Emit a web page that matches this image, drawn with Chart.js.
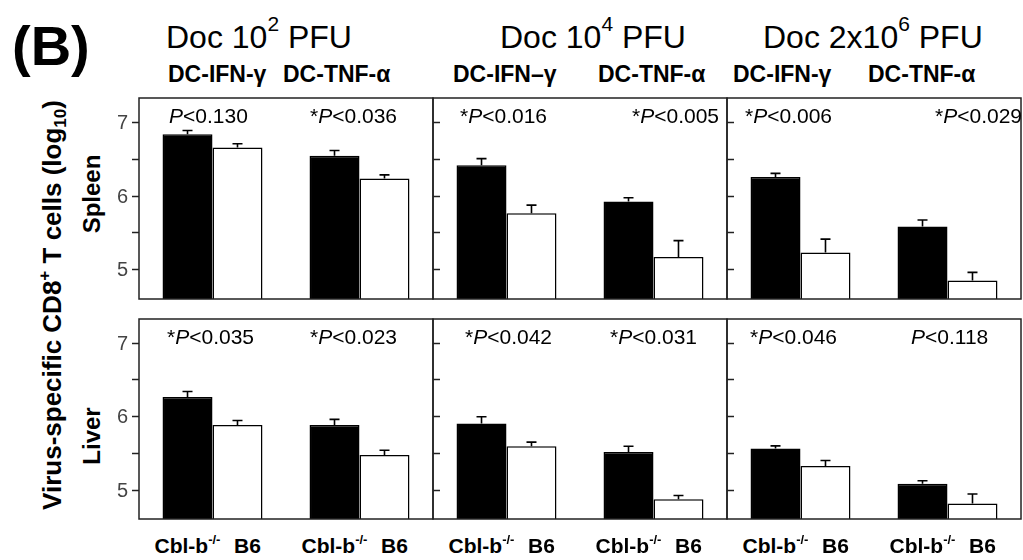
<!DOCTYPE html>
<html lang="en">
<head>
  <meta charset="UTF-8">
  <title>Virus-specific CD8+ T cells</title>
  <script src="https://cdn.jsdelivr.net/npm/chart.js"></script>
  <style>
    body {
      margin: 0;
      background: #fff;
      font-family: 'Liberation Sans', Arial, sans-serif;
      color: #000;
    }

    #fig {
      position: relative;
      width: 1023px;
      height: 560px;
      overflow: hidden;
    }

    #fig canvas {
      position: absolute;
    }

    .t {
      position: absolute;
      white-space: nowrap;
      line-height: 1;
    }
  </style>
</head>
<body>
  <div id="fig"></div>

  <script>
    // values (log10 cells), one entry per dose: [DC-IFN-γ, DC-TNF-α]
    const doseTitles = ['Doc 10^2 PFU', 'Doc 10^4 PFU', 'Doc 2x10^6 PFU'];
    const subTitles = [['DC-IFN-γ', 'DC-TNF-α'], ['DC-IFN–γ', 'DC-TNF-α'], ['DC-IFN-γ', 'DC-TNF-α']];
    const strains = ['Cbl-b', 'B6'];
    const organs = ['Spleen', 'Liver'];

    const spleenCbl = [[6.83, 6.54], [6.41, 5.92], [6.25, 5.58]];
    const spleenB6 = [[6.65, 6.23], [5.76, 5.17], [5.23, 4.85]];
    const spleenCblErr = [[0.05, 0.07], [0.09, 0.05], [0.05, 0.09]];
    const spleenB6Err = [[0.05, 0.05], [0.11, 0.22], [0.18, 0.11]];

    const liverCbl = [[6.26, 5.88], [5.90, 5.51], [5.56, 5.08]];
    const liverB6 = [[5.88, 5.47], [5.59, 4.87], [5.32, 4.81]];
    const liverCblErr = [[0.075, 0.075], [0.09, 0.08], [0.035, 0.04]];
    const liverB6Err = [[0.06, 0.065], [0.055, 0.05], [0.075, 0.13]];

    const spleenP = [['P<0.130', '*P<0.036'], ['*P<0.016', '*P<0.005'], ['*P<0.006', '*P<0.029']];
    const liverP = [['*P<0.035', '*P<0.023'], ['*P<0.042', '*P<0.031'], ['*P<0.046', 'P<0.118']];

    const yMin = 4.6, yMax = 7.32;
    const yTicks = [5, 5.5, 6, 6.5, 7];
    const yTickLabels = ['5', '', '6', '', '7'];

    // layout
    const fig = document.getElementById('fig');
    const PANEL_W = 294, LEFT0 = 139;
    const rowTop = [98, 319], rowH = [201, 200];
    const pLeft = [[[169, 310], [460, 632], [745, 935]], [[167, 310], [465, 610], [750, 911]]];
    const titleLeft = [166, 500, 763];
    const subLeft = [[168, 283], [453, 598], [733, 868]];

    function txt(html, x, baseline, size, css) {
      const d = document.createElement('div');
      d.className = 't';
      d.innerHTML = html;
      d.style.fontSize = size + 'px';
      d.style.left = x + 'px';
      d.style.top = (baseline - 0.8465 * size) + 'px';
      if (css) d.style.cssText += css;
      fig.appendChild(d);
      return d;
    }

    function rotTxt(html, cx, cy, size, css) {
      const d = document.createElement('div');
      d.className = 't';
      d.innerHTML = html;
      d.style.fontSize = size + 'px';
      d.style.left = cx + 'px';
      d.style.top = cy + 'px';
      d.style.transform = 'translate(-50%, -50%) rotate(-90deg)';
      if (css) d.style.cssText += css;
      fig.appendChild(d);
    }

    function sup(s, size, raise) {
      return '<span style="font-size:' + size + 'px;position:relative;top:-' + raise + 'px">' + s + '</span>';
    }

    function pHtml(s) {
      return s.replace('<', '&lt;').replace('P', '<i>P</i>');
    }

    // static text
    txt('(B)', 12, 65, 56, 'font-weight:bold;');
    doseTitles.forEach((t, c) => {
      const parts = t.split('^');
      const exp = parts[1].split(' ');
      txt(parts[0] + sup(exp[0], 21, 17) + ' ' + exp[1], titleLeft[c], 48, 32);
      subTitles[c].forEach((s, g) => txt(s, subLeft[c][g], 82, 23, 'font-weight:bold;'));
    });
    rotTxt('Virus-specific CD8' + sup('+', 17, 11) + ' T cells (log' +
      '<span style="font-size:17px;position:relative;top:5px">10</span>)', 52, 305, 26, 'font-weight:bold;');
    rotTxt(organs[0], 92, 194, 24, 'font-weight:bold;');
    rotTxt(organs[1], 92, 436, 24, 'font-weight:bold;');

    const panelPlugin = {
      id: 'panel',
      afterDatasetsDraw(chart, args, opts) {
        const { ctx, chartArea: a, scales: { y } } = chart;
        ctx.save();
        ctx.strokeStyle = '#000';
        ctx.lineWidth = 1.6;
        chart.data.datasets.forEach((ds, i) => {
          chart.getDatasetMeta(i).data.forEach((bar, j) => {
            const top = y.getPixelForValue(ds.data[j] + ds.err[j]);
            ctx.beginPath();
            ctx.moveTo(bar.x, bar.y);
            ctx.lineTo(bar.x, top);
            ctx.moveTo(bar.x - 5, top);
            ctx.lineTo(bar.x + 5, top);
            ctx.stroke();
          });
        });

        ctx.strokeStyle = '#222';
        ctx.lineWidth = 1.5;
        ctx.strokeRect(a.left, a.top, a.right - a.left, a.bottom - a.top);

        const dir = opts.first ? -1 : 1;
        ctx.font = '20px "Liberation Sans", Arial, sans-serif';
        ctx.fillStyle = '#444';
        ctx.textAlign = 'right';
        ctx.textBaseline = 'middle';
        yTicks.forEach((v, k) => {
          const py = Math.round(y.getPixelForValue(v)) + 0.5;
          ctx.beginPath();
          ctx.moveTo(a.left, py);
          ctx.lineTo(a.left + dir * 7, py);
          ctx.stroke();
          if (opts.first && yTickLabels[k]) ctx.fillText(yTickLabels[k], a.left - 11, py + 1);
        });
        ctx.restore();
      }
    };

    const rows = [
      { cbl: spleenCbl, b6: spleenB6, cblErr: spleenCblErr, b6Err: spleenB6Err, p: spleenP },
      { cbl: liverCbl, b6: liverB6, cblErr: liverCblErr, b6Err: liverB6Err, p: liverP }
    ];

    const padL = 45, padR = 5, padT = 3, padB = 3;

    rows.forEach((row, r) => {
      for (let c = 0; c < 3; c++) {
        const canvas = document.createElement('canvas');
        const w = PANEL_W + padL + padR, h = rowH[r] + padT + padB;
        const left = LEFT0 + PANEL_W * c - padL, top = rowTop[r] - padT;
        canvas.width = w;
        canvas.height = h;
        canvas.style.width = w + 'px';
        canvas.style.height = h + 'px';
        canvas.style.left = left + 'px';
        canvas.style.top = top + 'px';
        fig.appendChild(canvas);

        const chart = new Chart(canvas.getContext('2d'), {
          type: 'bar',
          data: {
            labels: subTitles[c],
            datasets: [{
              label: 'Cbl-b-/-',
              data: row.cbl[c],
              err: row.cblErr[c],
              backgroundColor: '#000',
              borderColor: '#000',
              borderWidth: 1.5
            }, {
              label: 'B6',
              data: row.b6[c],
              err: row.b6Err[c],
              backgroundColor: '#fff',
              borderColor: '#000',
              borderWidth: 1.5
            }]
          },
          options: {
            responsive: false,
            animation: false,
            devicePixelRatio: 1,
            categoryPercentage: 0.68,
            barPercentage: 1,
            layout: { padding: { left: padL, right: padR, top: padT, bottom: padB } },
            plugins: {
              legend: { display: false },
              tooltip: { enabled: false },
              panel: { first: c === 0 }
            },
            scales: {
              x: { display: false },
              y: { display: false, min: yMin, max: yMax }
            }
          },
          plugins: [panelPlugin]
        });

        row.p[c].forEach((s, g) => txt(pHtml(s), pLeft[r][c][g], rowTop[r] + 25, 21));

        if (r === 1) {
          const m0 = chart.getDatasetMeta(0).data, m1 = chart.getDatasetMeta(1).data;
          for (let g = 0; g < 2; g++) {
            const a = txt(strains[0] + sup('-/-', 13, 9), 0, 553, 21, 'font-weight:bold;');
            a.style.left = (left + m0[g].x - a.offsetWidth / 2) + 'px';
            const b = txt(strains[1], 0, 553, 21, 'font-weight:bold;');
            b.style.left = (left + m1[g].x + 10 - b.offsetWidth / 2) + 'px';
          }
        }
      }
    });
  </script>
</body>
</html>
